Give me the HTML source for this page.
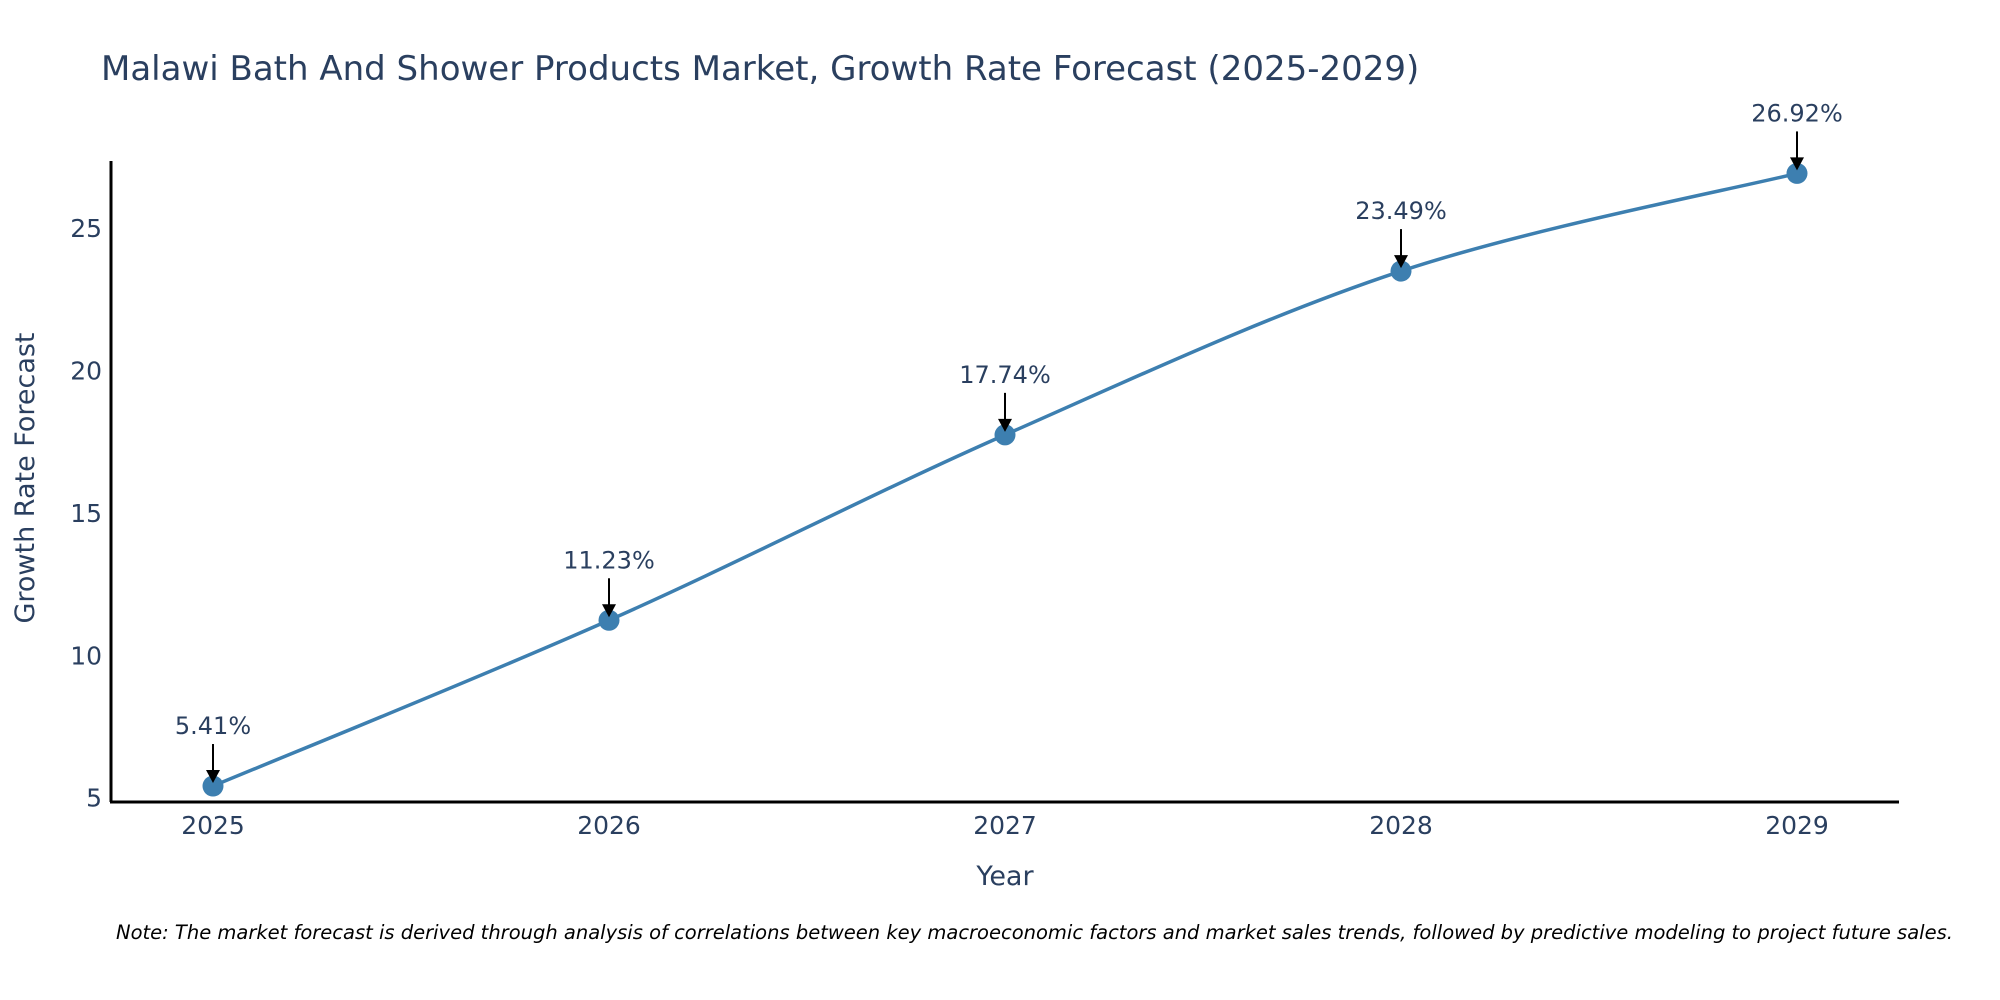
<!DOCTYPE html>
<html><head><meta charset="utf-8"><style>
html,body{margin:0;padding:0;background:#fff;}
svg{display:block;font-family:"DejaVu Sans","Liberation Sans",sans-serif;}
</style></head><body>
<svg id="chart" width="2000" height="1000" viewBox="0 0 2000 1000">
<text x="101" y="80" font-size="34" fill="#2a3f5f">Malawi Bath And Shower Products Market, Growth Rate Forecast (2025-2029)</text>
<g id="yticks"></g>
<g id="xticks"></g>
<line x1="111" y1="161" x2="111" y2="802" stroke="#000" stroke-width="3"/>
<line x1="110" y1="802" x2="1899" y2="802" stroke="#000" stroke-width="3"/>
<path id="line" fill="none" stroke="#3d7fb0" stroke-width="3.5"/>
<g id="points"></g>
<g id="annots"></g>
<text x="1005" y="885" font-size="27" fill="#2a3f5f" text-anchor="middle">Year</text>
<text transform="translate(34,478) rotate(-90)" font-size="27" fill="#2a3f5f" text-anchor="middle">Growth Rate Forecast</text>
<text x="116" y="939" font-size="19.5" font-style="italic" fill="#000">Note: The market forecast is derived through analysis of correlations between key macroeconomic factors and market sales trends, followed by predictive modeling to project future sales.</text>
</svg>
<script>
const years = [2025, 2026, 2027, 2028, 2029];
const values = [5.41, 11.23, 17.74, 23.49, 26.92];
const yTicks = [5, 10, 15, 20, 25];
const NS = "http://www.w3.org/2000/svg";
function xs(i){ return 213 + i * 396; }
function ys(v){ return 797.7 - (v - 5) * 28.48; }
function mk(tag, attrs, parent){ const e=document.createElementNS(NS,tag); for(const k in attrs) e.setAttribute(k, attrs[k]); parent.appendChild(e); return e; }
const yt=document.getElementById('yticks');
yTicks.forEach(t=>{
  const e=mk('text',{x:102,y:ys(t)+9,'font-size':25,fill:'#2a3f5f','text-anchor':'end'},yt);
  
  
  e.textContent=t;
});
const xt=document.getElementById('xticks');
years.forEach((y,i)=>{
  const e=mk('text',{x:xs(i),y:834,'font-size':25,fill:'#2a3f5f','text-anchor':'middle'},xt);
  
  
  e.textContent=y;
});
const P=values.map((v,i)=>[xs(i),ys(v)]);
let d='M'+P[0][0]+','+P[0][1];
for(let i=0;i<P.length-1;i++){
  const p0=P[Math.max(i-1,0)],p1=P[i],p2=P[i+1],p3=P[Math.min(i+2,P.length-1)];
  const t=6;
  d+=' C'+(p1[0]+(p2[0]-p0[0])/t)+','+(p1[1]+(p2[1]-p0[1])/t)+' '+(p2[0]-(p3[0]-p1[0])/t)+','+(p2[1]-(p3[1]-p1[1])/t)+' '+p2[0]+','+p2[1];
}
document.getElementById('line').setAttribute('d',d);
const pts=document.getElementById('points'), an=document.getElementById('annots');
values.forEach((v,i)=>{
  const x=xs(i), y=ys(v);
  const c=mk('circle',{cx:x,cy:y,r:10.5,fill:'#3d7fb0'},pts);
  
  
  const l=mk('line',{x1:x,y1:y-42,x2:x,y2:y-14,stroke:'#000','stroke-width':2},an);
  
  
  const h=mk('polygon',{points:(x-7)+','+(y-16)+' '+(x+7)+','+(y-16)+' '+x+','+(y-3),fill:'#000'},an);
  
  
  const t=mk('text',{x:x,y:y-52,'font-size':24,fill:'#2a3f5f','text-anchor':'middle'},an);
  
  
  t.textContent=v.toFixed(2)+'%';
});
</script>
</body></html>
